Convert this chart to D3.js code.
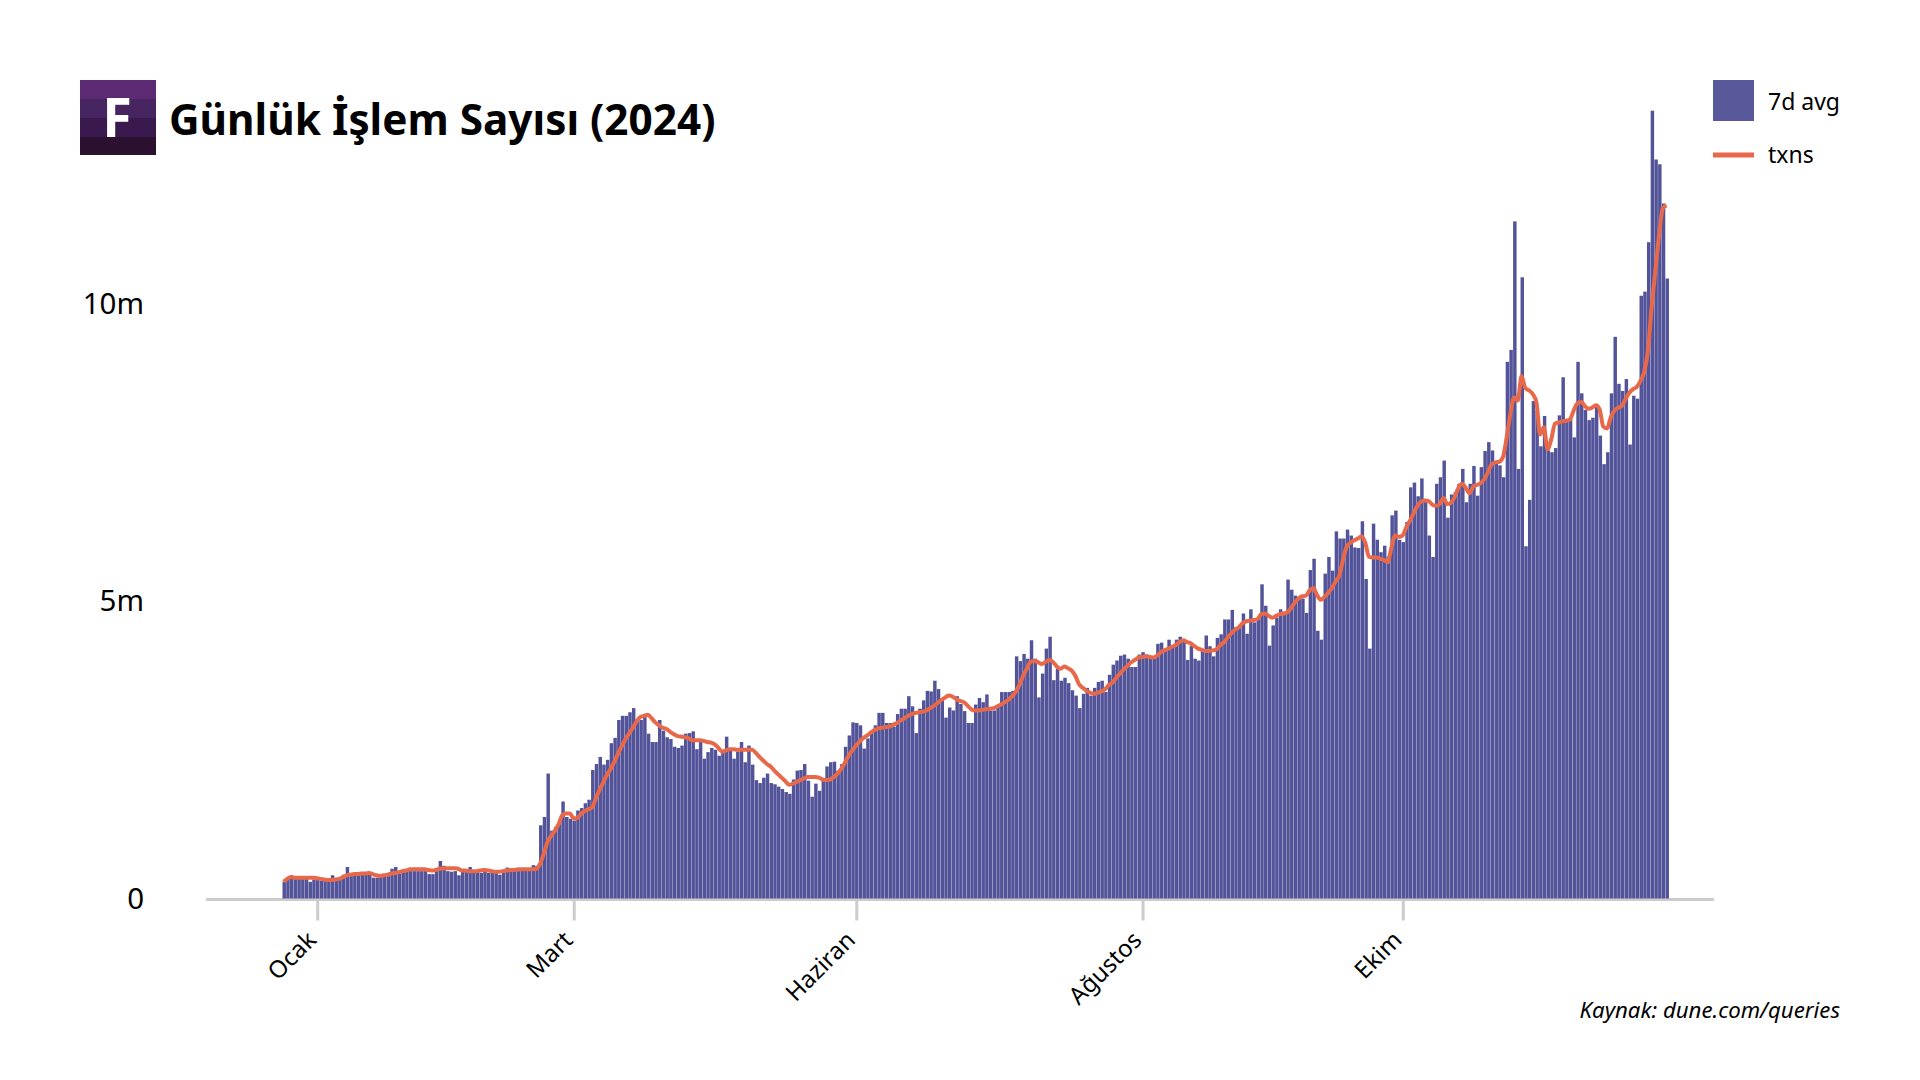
<!DOCTYPE html>
<html>
<head>
<meta charset="utf-8">
<title>Günlük İşlem Sayısı (2024)</title>
<script src="https://cdn.jsdelivr.net/npm/d3@7"></script>
<style>
  body { margin: 0; background: #fff; }
  text { font-family: "Noto Sans", sans-serif; fill: #000; }
</style>
</head>
<body>
<div id="chart"></div>
<script>
// values in millions
const avg7d = [
  .28,.33,.39,.35,.35,.34,.34,.28,.32,.31,.30,.30,.30,.39,.31,.32,.40,.53,.39,.41,
  .39,.41,.42,.43,.35,.35,.36,.38,.43,.50,.53,.42,.46,.46,.46,.46,.46,.46,.46,.41,
  .41,.46,.63,.55,.46,.45,.46,.39,.46,.46,.53,.43,.44,.43,.46,.43,.45,.43,.40,.44,
  .52,.50,.46,.46,.48,.48,.48,.56,
  .55,1.23,1.37,2.10,1.14,1.20,1.26,1.63,1.37,1.34,1.31,1.48,1.52,1.60,1.66,2.16,2.26,2.38,2.25,2.33,
  2.61,2.70,3.00,3.07,3.07,3.13,3.20,3.00,3.00,3.05,2.77,2.63,2.63,3.00,2.82,2.71,2.68,2.55,2.53,2.57,
  2.77,2.78,2.81,2.51,2.63,2.35,2.46,2.53,2.50,2.40,2.46,2.72,2.48,2.35,2.47,2.63,2.29,2.57,2.25,1.99,
  1.94,2.03,2.10,1.94,1.92,1.88,1.84,1.79,
  1.76,2.00,2.15,2.16,2.26,1.98,1.71,1.93,1.81,1.98,2.22,2.29,2.30,2.15,2.26,2.55,2.74,2.96,2.95,2.91,
  2.52,2.69,2.80,2.91,3.12,3.12,2.95,2.95,2.89,3.10,3.19,3.19,3.40,3.23,2.78,3.19,3.33,3.49,3.48,3.66,
  3.52,3.36,3.04,3.21,3.16,3.40,3.27,3.15,2.95,2.95,3.26,3.37,3.30,3.43,3.16,3.16,3.24,3.47,3.47,
  3.47,3.49,4.07,3.99,4.11,4.03,4.34,4.03,3.38,3.78,4.20,4.40,3.67,3.86,3.66,3.71,3.62,3.50,3.41,3.20,
  3.44,3.54,3.41,3.54,3.64,3.66,3.47,3.76,3.93,4.00,4.08,4.10,4.03,3.89,3.89,4.10,4.14,4.10,4.06,4.03,
  4.28,4.30,4.20,4.35,4.25,4.35,4.40,4.34,4.01,4.25,4.03,4.00,4.16,4.42,4.24,4.07,4.38,4.44,4.69,4.69,
  4.85,4.56,4.60,4.79,4.45,4.86,4.64,4.70,5.28,4.92,4.25,4.59,4.72,4.86,4.78,
  5.36,5.19,5.09,5.06,5.04,4.80,5.52,5.71,4.50,4.35,5.46,5.74,5.51,6.17,6.05,6.05,6.20,6.10,5.90,5.89,
  6.34,5.37,4.20,6.30,6.03,5.82,5.93,5.75,6.44,6.52,6.03,5.99,6.33,6.91,6.99,6.76,7.06,6.69,6.10,5.74,
  6.97,7.08,7.36,6.40,6.79,6.83,6.97,7.22,6.66,6.97,7.27,6.77,
  7.25,7.52,7.67,7.53,7.33,7.28,7.08,9.02,9.22,11.38,7.22,10.44,5.92,6.70,8.36,8.20,7.60,8.11,7.53,7.50,
  7.57,8.12,8.76,8.06,8.05,7.75,9.02,8.49,8.21,8.04,8.08,8.27,7.78,7.30,7.50,8.49,9.44,8.65,8.53,8.73,
  7.63,8.45,8.40,10.13,10.20,11.03,13.24,12.42,12.34,11.68,10.42
];

const txns = [
  .28,.33,.36,.35,.35,.35,.35,.35,.35,.34,.33,.32,.31,.31,.32,.33,.36,.39,.40,.41,
  .41,.42,.42,.43,.41,.39,.38,.39,.40,.42,.43,.44,.46,.47,.49,.49,.49,.49,.49,.48,
  .47,.48,.50,.51,.51,.51,.51,.50,.47,.47,.46,.46,.46,.47,.48,.47,.46,.45,.45,.46,
  .47,.48,.48,.49,.49,.49,.49,.49,
  .50,.58,.75,.95,1.05,1.14,1.25,1.40,1.43,1.43,1.35,1.35,1.42,1.47,1.50,1.53,1.68,1.82,1.95,2.08,
  2.18,2.30,2.44,2.56,2.68,2.78,2.87,2.98,3.05,3.07,3.09,3.03,2.96,2.91,2.87,2.85,2.80,2.76,2.73,2.72,
  2.71,2.69,2.66,2.66,2.66,2.65,2.63,2.62,2.59,2.53,2.47,2.49,2.51,2.51,2.50,2.50,2.50,2.50,2.50,2.45,
  2.38,2.32,2.26,2.22,2.15,2.09,2.03,1.97,
  1.91,1.93,1.96,1.99,2.02,2.04,2.04,2.04,2.03,2.00,1.99,2.00,2.04,2.10,2.18,2.28,2.40,2.49,2.57,2.64,
  2.70,2.74,2.79,2.83,2.86,2.87,2.88,2.89,2.92,2.95,2.99,3.03,3.07,3.10,3.12,3.13,3.14,3.16,3.20,3.24,
  3.29,3.34,3.38,3.41,3.39,3.35,3.32,3.30,3.24,3.18,3.16,3.16,3.17,3.18,3.19,3.20,3.23,3.26,3.30,
  3.34,3.40,3.48,3.60,3.75,3.87,3.98,3.99,3.97,3.94,3.98,4.01,3.97,3.90,3.86,3.90,3.87,3.83,3.74,3.60,
  3.54,3.49,3.46,3.44,3.46,3.48,3.52,3.59,3.63,3.71,3.78,3.85,3.91,3.97,4.01,4.05,4.06,4.07,4.06,4.05,
  4.08,4.14,4.17,4.20,4.23,4.26,4.31,4.34,4.31,4.29,4.24,4.20,4.18,4.16,4.16,4.17,4.19,4.26,4.31,4.39,
  4.46,4.52,4.56,4.63,4.66,4.67,4.68,4.70,4.78,4.79,4.75,4.72,4.75,4.78,4.79,
  4.81,4.88,4.97,5.04,5.08,5.09,5.18,5.22,5.10,5.02,5.07,5.14,5.22,5.33,5.43,5.70,5.92,5.98,6.02,6.05,
  6.09,5.97,5.74,5.73,5.73,5.71,5.69,5.65,5.90,6.10,6.08,6.10,6.24,6.35,6.48,6.60,6.67,6.69,6.68,6.62,
  6.60,6.63,6.73,6.63,6.65,6.75,6.90,6.97,6.90,6.81,6.92,6.95,
  6.98,7.05,7.17,7.30,7.33,7.34,7.42,7.75,8.15,8.42,8.37,8.78,8.58,8.54,8.48,8.34,7.80,7.92,7.55,7.72,
  7.98,8.00,8.02,8.03,8.05,8.20,8.32,8.35,8.28,8.23,8.25,8.29,8.22,7.93,7.90,8.09,8.20,8.25,8.28,8.40,
  8.50,8.56,8.60,8.70,8.85,9.21,9.95,10.55,11.15,11.60,11.65
];

const monthTicks = [9, 78, 154, 231, 301];
const monthLabels = ["Ocak", "Mart", "Haziran", "Ağustos", "Ekim"];
const yTicks = [0, 5, 10];
const logoBands = ["#5c2a72", "#472560", "#3a1a4e", "#2b1030"];

const width = 1920;
const height = 1080;
const barColor = "#53539a";
const lineColor = "#e8694a";
const axisColor = "#cccccc";

const svg = d3.select("#chart")
    .append("svg")
    .attr("width", width)
    .attr("height", height)
    .style("display", "block");

// Scales
const x = d3.scaleBand()
    .domain(d3.range(avg7d.length))
    .range([282.5, 1669])
    .paddingInner(0.07)
    .paddingOuter(0);

const y = d3.scaleLinear()
    .domain([0, 14])
    .range([898.5, 65.5]);

// Baseline
svg.append("line")
    .attr("x1", 206)
    .attr("x2", 1714)
    .attr("y1", 899.5)
    .attr("y2", 899.5)
    .style("stroke", axisColor)
    .style("stroke-width", 3);

// Bars
svg.selectAll(".bar")
    .data(avg7d)
    .enter()
    .append("rect")
    .attr("class", "bar")
    .attr("x", (d, i) => x(i))
    .attr("y", d => y(d))
    .attr("width", x.bandwidth())
    .attr("height", d => y(0) - y(d))
    .style("fill", barColor);

// Line
const line = d3.line()
    .x((d, i) => x(i) + 1)
    .y(d => y(d))
    .curve(d3.curveMonotoneX);

svg.append("path")
    .datum(txns)
    .attr("d", line)
    .style("fill", "none")
    .style("stroke", lineColor)
    .style("stroke-width", 4)
    .style("stroke-linejoin", "round");

// Axes
const xAxis = d3.axisBottom(x)
    .tickValues(monthTicks)
    .tickFormat((d, i) => monthLabels[i])
    .tickSize(20)
    .tickSizeOuter(0);

const xg = svg.append("g")
    .attr("transform", "translate(0,900.5)")
    .call(xAxis);
xg.select(".domain").remove();
xg.selectAll(".tick line")
    .style("stroke", axisColor)
    .style("stroke-width", 3);
xg.selectAll(".tick text")
    .attr("x", 0)
    .attr("y", 0)
    .attr("dy", 0)
    .attr("transform", "translate(0,41) rotate(-45)")
    .style("text-anchor", "end")
    .style("font-size", "24px");

const yAxis = d3.axisLeft(y)
    .tickValues(yTicks)
    .tickFormat(d => d === 0 ? "0" : d + "m")
    .tickSize(0);

const yg = svg.append("g")
    .attr("transform", "translate(144,0)")
    .call(yAxis);
yg.select(".domain").remove();
yg.selectAll(".tick text")
    .attr("x", 0)
    .attr("dy", "0.33em")
    .style("font-size", "29.5px");

// Logo
svg.selectAll(".logo-band")
    .data(logoBands)
    .enter()
    .append("rect")
    .attr("class", "logo-band")
    .attr("x", 80)
    .attr("y", (d, i) => 80 + i * 19)
    .attr("width", 76)
    .attr("height", (d, i) => i === 3 ? 18 : 19)
    .style("fill", d => d);

svg.append("text")
    .attr("x", 117)
    .attr("y", 137)
    .attr("text-anchor", "middle")
    .style("font-size", "54px")
    .style("font-weight", 700)
    .style("fill", "#fff")
    .text("F");

// Title
svg.append("text")
    .attr("x", 169)
    .attr("y", 135)
    .style("font-size", "42.3px")
    .style("font-weight", 700)
    .text("Günlük İşlem Sayısı (2024)");

// Legend
svg.append("rect")
    .attr("x", 1713)
    .attr("y", 80)
    .attr("width", 41)
    .attr("height", 41)
    .style("fill", "#58589a");

svg.append("line")
    .attr("x1", 1713)
    .attr("x2", 1754)
    .attr("y1", 155)
    .attr("y2", 155)
    .style("stroke", lineColor)
    .style("stroke-width", 5);

svg.append("text")
    .attr("x", 1768)
    .attr("y", 110)
    .style("font-size", "23px")
    .text("7d avg");

svg.append("text")
    .attr("x", 1768)
    .attr("y", 163)
    .style("font-size", "23px")
    .text("txns");

// Source
svg.append("text")
    .attr("x", 1840)
    .attr("y", 1018)
    .attr("text-anchor", "end")
    .style("font-size", "22.2px")
    .style("font-style", "italic")
    .text("Kaynak: dune.com/queries");
</script>
</body>
</html>
